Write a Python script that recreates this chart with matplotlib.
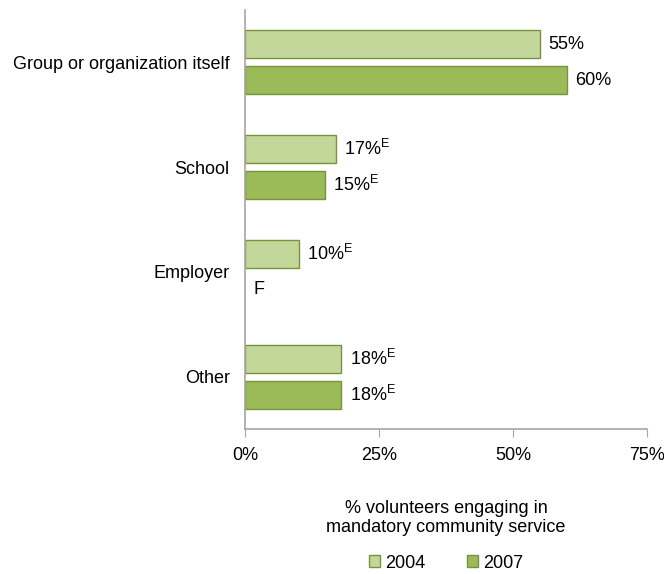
import matplotlib
matplotlib.use('Agg')
import matplotlib.pyplot as plt
import numpy as np
from matplotlib.patches import Patch

plt.rcParams['font.family'] = ['Liberation Sans', 'DejaVu Sans']
plt.rcParams['mathtext.fontset'] = 'custom'
plt.rcParams['mathtext.rm'] = 'Liberation Sans'

categories = ['Group or organization itself', 'School', 'Employer', 'Other']
v2004 = [55, 17, 10, 18]
v2007 = [60, 15, None, 18]
lab2004 = ['55%', '17%$^\\mathrm{E}$', '10%$^\\mathrm{E}$', '18%$^\\mathrm{E}$']
lab2007 = ['60%', '15%$^\\mathrm{E}$', 'F', '18%$^\\mathrm{E}$']
xticks = [0, 25, 50, 75]

c04, c07 = '#C4D79B', '#9BBB59'
edge = '#77933C'
fs = 13

fig = plt.figure(figsize=(6.64, 5.74), dpi=100)
ax = fig.add_axes([245/664, 1-429/574, 402/664, 419/574])

y = np.arange(len(categories))
h = 0.267
off = 0.171
for i in range(len(categories)):
    ax.barh(y[i]-off, v2004[i], height=h, color=c04, edgecolor=edge, linewidth=1)
    ax.text(v2004[i]+1.5, y[i]-off, lab2004[i], va='center', ha='left', fontsize=fs)
    if v2007[i] is not None:
        ax.barh(y[i]+off, v2007[i], height=h, color=c07, edgecolor=edge, linewidth=1)
        ax.text(v2007[i]+1.5, y[i]+off, lab2007[i], va='center', ha='left', fontsize=fs)
    else:
        ax.text(1.5, y[i]+off, lab2007[i], va='center', ha='left', fontsize=fs)

ax.set_ylim(len(categories)-0.5, -0.5)
ax.set_xlim(0, 75)
ax.set_yticks(y)
ax.set_yticklabels(categories, fontsize=fs)
ax.set_xticks(xticks)
ax.set_xticklabels(['%d%%' % t for t in xticks], fontsize=fs)
ax.tick_params(axis='y', length=0, pad=11)
ax.tick_params(axis='x', length=6, direction='out', color='#A6A6A6', pad=7)
for s in ['top', 'right']:
    ax.spines[s].set_visible(False)
for s in ['left', 'bottom']:
    ax.spines[s].set_color('#A6A6A6')
    ax.spines[s].set_linewidth(1.2)
ax.set_xlabel('% volunteers engaging in\nmandatory community service', fontsize=fs, labelpad=26, linespacing=1.15)

handles = [Patch(facecolor=c04, edgecolor=edge, label='2004'),
           Patch(facecolor=c07, edgecolor=edge, label='2007')]
fig.legend(handles=handles, loc='center', bbox_to_anchor=(446/664, 1-563/574), ncol=2,
           frameon=False, fontsize=fs, handlelength=0.6, handleheight=0.6,
           handletextpad=0.3, columnspacing=2.3)

fig.savefig('out.png', dpi=100)
